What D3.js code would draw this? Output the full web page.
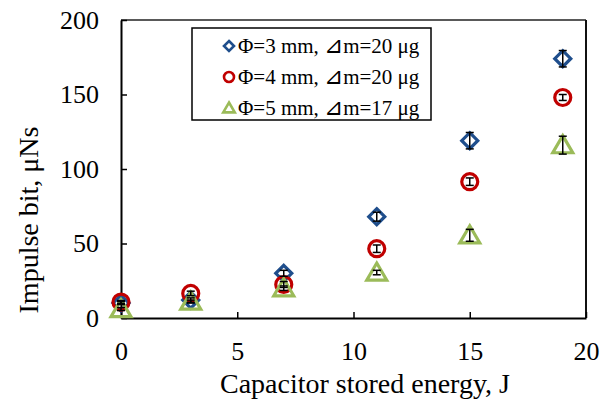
<!DOCTYPE html>
<html>
<head>
<meta charset="utf-8">
<script src="https://cdn.jsdelivr.net/npm/d3@7"></script>
<style>
  body { margin: 0; background: #fff; }
</style>
</head>
<body>
<div id="chart"></div>
<script>
// energy (J) on x
const energy = [0, 3, 7, 11, 15, 19];

// impulse bit (uNs) for each nozzle diameter
const imp3mm = [10, 12, 30, 68, 119, 174];
const err3mm = [1, 1.5, 2, 3, 5.5, 5.5];
const imp4mm = [10.7, 16.5, 22.5, 46.5, 91.5, 148];
const err4mm = [1, 1.5, 2, 2.5, 2.5, 2];
const imp5mm = [6, 11, 20, 30.5, 55.5, 116];
const err5mm = [1, 1, 1.5, 1.5, 4, 6];

// legend parts: before triangle sign, after it
const legendPre = ["\u03A6=3 mm, ", "\u03A6=4 mm, ", "\u03A6=5 mm, "];
const legendPost = ["m=20 \u03BCg", "m=20 \u03BCg", "m=17 \u03BCg"];
const xTicks = [0, 5, 10, 15, 20];
const yTicks = [0, 50, 100, 150, 200];

const serif = "'Liberation Serif', 'Times New Roman', serif";

const width = 610, height = 399;
const margin = { top: 20, left: 121, right: 24, bottom: 81 };
const plotW = width - margin.left - margin.right;
const plotH = height - margin.top - margin.bottom;

const series = [
  { vals: imp3mm, errs: err3mm, shape: "diamond", color: "#1F4E8C" },
  { vals: imp4mm, errs: err4mm, shape: "circle", color: "#C00000" },
  { vals: imp5mm, errs: err5mm, shape: "triangle", color: "#9BBB59" }
];

const svg = d3.select("#chart").append("svg")
  .attr("width", width).attr("height", height)
  .attr("font-family", serif);

const g = svg.append("g").attr("transform", `translate(${margin.left},${margin.top})`);

const x = d3.scaleLinear().domain([0, 20]).range([0, plotW]);
const y = d3.scaleLinear().domain([0, 200]).range([plotH, 0]);

// frame (top and right)
g.append("line").attr("x1", 0).attr("x2", plotW).attr("y1", 0).attr("y2", 0)
  .style("stroke", "#222").style("stroke-width", 1.5);
g.append("line").attr("x1", plotW).attr("x2", plotW).attr("y1", 0).attr("y2", plotH)
  .style("stroke", "#111").style("stroke-width", 2);

const xAxis = d3.axisBottom(x).tickValues(xTicks).tickSize(-6).tickSizeOuter(0).tickPadding(26);
const yAxis = d3.axisLeft(y).tickValues(yTicks).tickSize(-6).tickSizeOuter(0).tickPadding(22);

const gx = g.append("g").attr("transform", `translate(0,${plotH})`).call(xAxis);
const gy = g.append("g").call(yAxis);

[gx, gy].forEach(ax => {
  ax.attr("font-family", serif).attr("font-size", 26);
  ax.select(".domain").style("stroke", "#000").style("stroke-width", 2);
  ax.selectAll(".tick line").style("stroke", "#000").style("stroke-width", 1.5);
  ax.selectAll(".tick text").style("font-family", serif).style("font-size", "26px").style("fill", "#000");
});
gx.selectAll(".tick text").attr("dy", "0.62em");

// axis titles
svg.append("text")
  .attr("x", 365).attr("y", 393)
  .attr("text-anchor", "middle")
  .style("font-family", serif)
  .style("font-size", "28px")
  .text("Capacitor stored energy, J");

svg.append("text")
  .attr("transform", "translate(38,220) rotate(-90)")
  .attr("text-anchor", "middle")
  .style("font-family", serif)
  .style("font-size", "28px")
  .text("Impulse bit, \u03BCNs");

function shapePath(shape, s) {
  if (shape === "diamond") return `M0,${-s}L${s},0L0,${s}L${-s},0Z`;
  if (shape === "triangle") return `M0,${-s}L${s * 1.05},${s * 0.8}L${-s * 1.05},${s * 0.8}Z`;
  return null;
}

function drawMarker(sel, shape, color, s, sw) {
  if (shape === "circle") {
    sel.append("circle").attr("r", s).style("fill", "none").style("stroke", color).style("stroke-width", sw);
  } else {
    sel.append("path").attr("d", shapePath(shape, s)).style("fill", "none")
      .style("stroke", color).style("stroke-width", sw).style("stroke-linejoin", "miter");
  }
}

// markers
series.forEach(sr => {
  const sg = g.append("g");
  energy.forEach((e, i) => {
    const m = sg.append("g").attr("transform", `translate(${x(e)},${y(sr.vals[i])})`);
    const size = sr.shape === "diamond" ? 8 : (sr.shape === "circle" ? 8 : 9.5);
    drawMarker(m, sr.shape, sr.color, size, 3.2);
  });
});

// error bars on top
series.forEach(sr => {
  const eg = g.append("g");
  energy.forEach((e, i) => {
    const cx = x(e);
    const y1 = y(sr.vals[i] + sr.errs[i]);
    const y2 = y(sr.vals[i] - sr.errs[i]);
    eg.append("line").attr("x1", cx).attr("x2", cx).attr("y1", y1).attr("y2", y2)
      .style("stroke", "#000").style("stroke-width", 1.5);
    [y1, y2].forEach(yy => {
      eg.append("line").attr("x1", cx - 4).attr("x2", cx + 4).attr("y1", yy).attr("y2", yy)
        .style("stroke", "#000").style("stroke-width", 1.5);
    });
  });
});

// legend
const leg = svg.append("g").attr("transform", "translate(192,28)");
leg.append("rect").attr("width", 239).attr("height", 92)
  .style("fill", "#fff").style("stroke", "#000").style("stroke-width", 1.5);

series.forEach((sr, i) => {
  const row = leg.append("g").attr("transform", `translate(37,${18 + i * 31})`);
  const size = sr.shape === "triangle" ? 5.5 : 5;
  drawMarker(row, sr.shape, sr.color, size, 2.6);
  const t = row.append("text").attr("x", 9).attr("y", 7)
    .style("font-family", serif)
    .style("font-size", "21px");
  t.append("tspan").text(legendPre[i]);
  t.append("tspan").style("font-size", "23px").text("\u22BF");
  t.append("tspan").text(legendPost[i]);
});
</script>
</body>
</html>
